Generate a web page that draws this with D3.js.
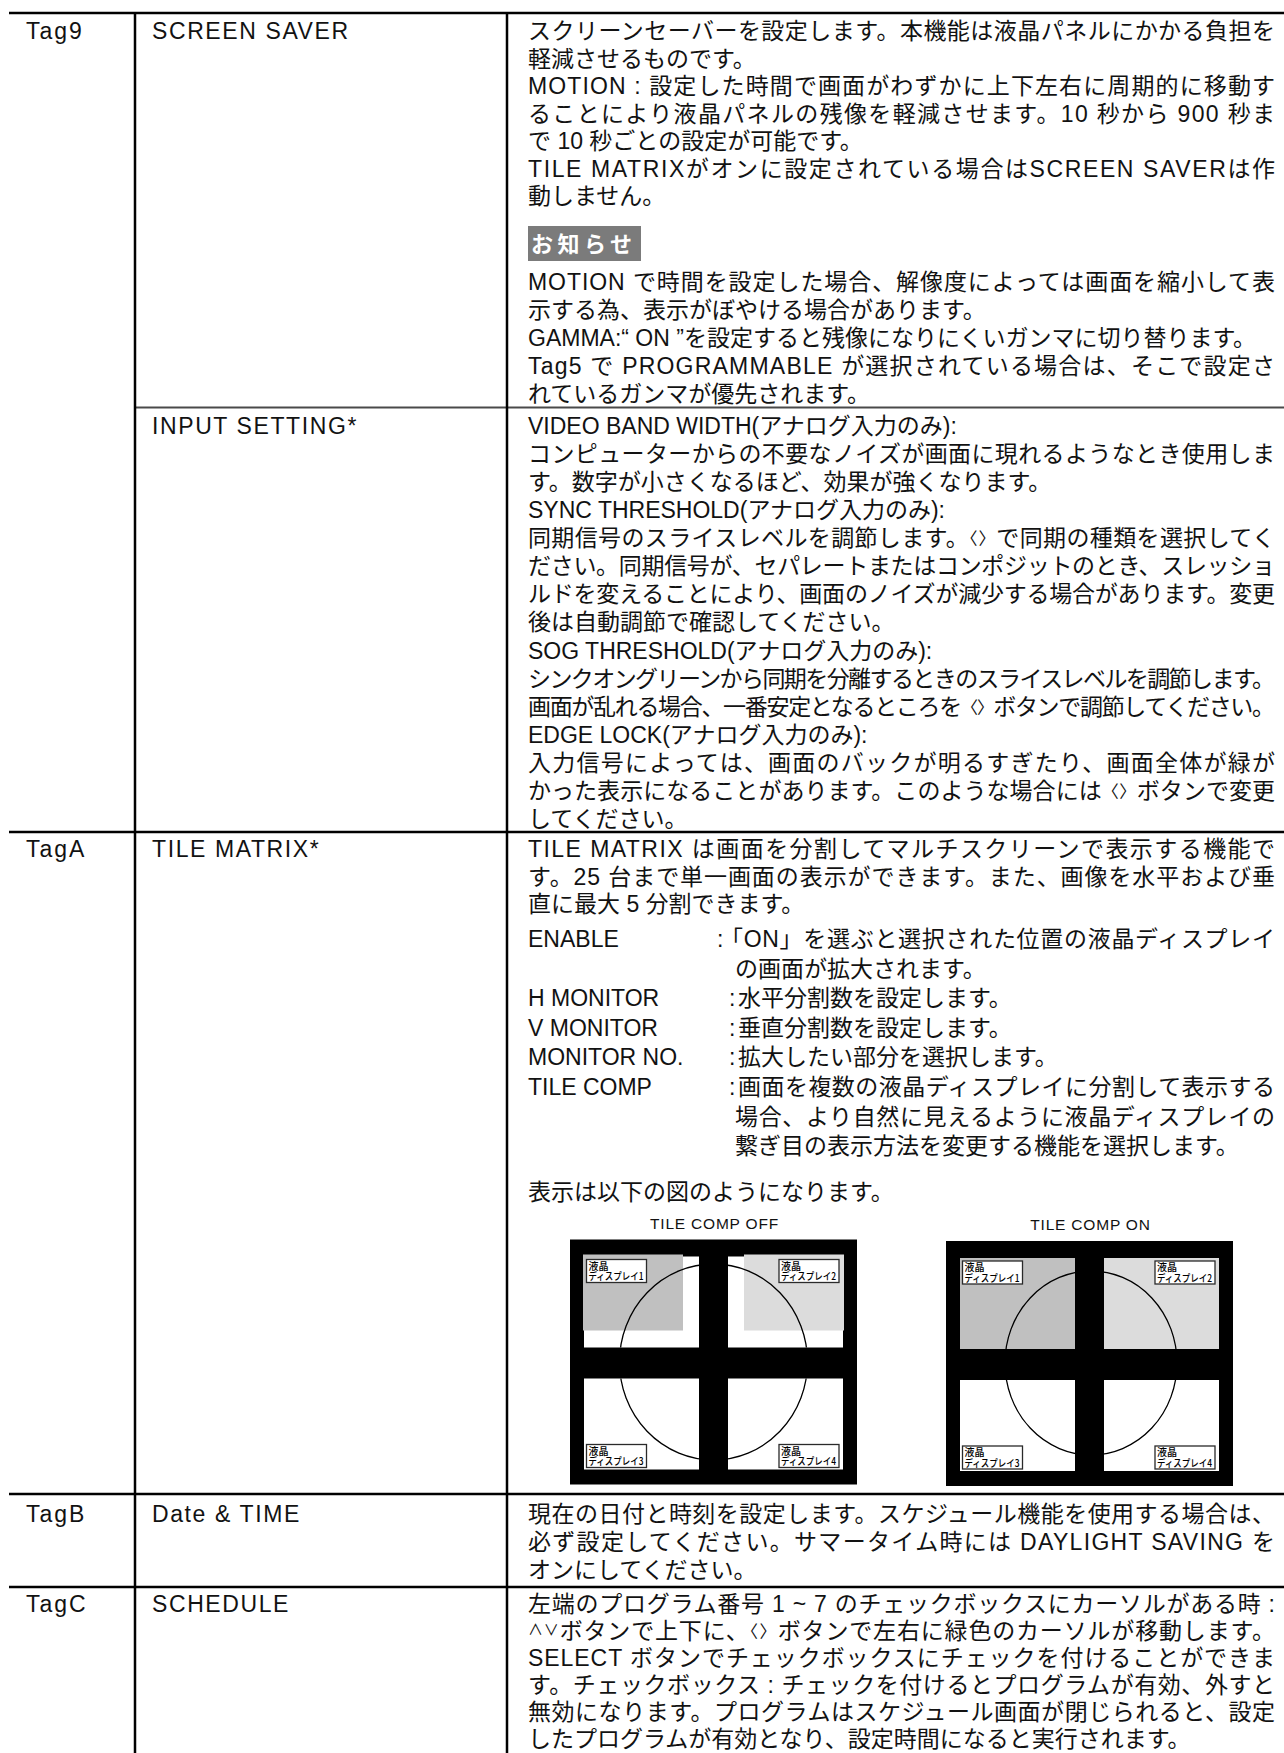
<!DOCTYPE html>
<html><head><meta charset="utf-8">
<script src="https://cdn.jsdelivr.net/npm/d3@7"></script>
<style>html,body{margin:0;padding:0;background:#fff;}svg{display:block;}</style>
</head><body>
<div id="chart"></div>
<script>
// ---------------- DATA ----------------
const rowTags = ["Tag9", "TagA", "TagB", "TagC"];
const settingNames = ["SCREEN SAVER", "INPUT SETTING*", "TILE MATRIX*", "Date & TIME", "SCHEDULE"];
const screenSaverText = [
  ["スクリーンセーバーを設定します。本機能は液晶パネルにかかる負担を", "軽減させるものです。"],
  ["MOTION : 設定した時間で画面がわずかに上下左右に周期的に移動す", "ることにより液晶パネルの残像を軽減させます。10 秒から 900 秒ま", "で 10 秒ごとの設定が可能です。"],
  ["TILE MATRIXがオンに設定されている場合はSCREEN SAVERは作", "動しません。"]
];
const noticeLabel = "お知らせ";
const noticeText = [
  ["MOTION で時間を設定した場合、解像度によっては画面を縮小して表", "示する為、表示がぼやける場合があります。"],
  ["GAMMA:“ ON ”を設定すると残像になりにくいガンマに切り替ります。"],
  ["Tag5 で PROGRAMMABLE が選択されている場合は、そこで設定さ", "れているガンマが優先されます。"]
];
const inputSettingText = [
  ["VIDEO BAND WIDTH(アナログ入力のみ):"],
  ["コンピューターからの不要なノイズが画面に現れるようなとき使用しま", "す。数字が小さくなるほど、効果が強くなります。"],
  ["SYNC THRESHOLD(アナログ入力のみ):"],
  ["同期信号のスライスレベルを調節します。‹›で同期の種類を選択してく", "ださい。同期信号が、セパレートまたはコンポジットのとき、スレッショ", "ルドを変えることにより、画面のノイズが減少する場合があります。変更", "後は自動調節で確認してください。"],
  ["SOG THRESHOLD(アナログ入力のみ):"],
  ["シンクオングリーンから同期を分離するときのスライスレベルを調節します。", "画面が乱れる場合、一番安定となるところを‹›ボタンで調節してください。"],
  ["EDGE LOCK(アナログ入力のみ):"],
  ["入力信号によっては、画面のバックが明るすぎたり、画面全体が緑が", "かった表示になることがあります。このような場合には‹›ボタンで変更", "してください。"]
];
const tileMatrixText = [
  ["TILE MATRIX は画面を分割してマルチスクリーンで表示する機能で", "す。25 台まで単一画面の表示ができます。また、画像を水平および垂", "直に最大 5 分割できます。"]
];
const tileItemLabels = ["ENABLE", "H MONITOR", "V MONITOR", "MONITOR NO.", "TILE COMP"];
const tileItemText = [
  ["「ON」を選ぶと選択された位置の液晶ディスプレイ", "の画面が拡大されます。"],
  ["水平分割数を設定します。"],
  ["垂直分割数を設定します。"],
  ["拡大したい部分を選択します。"],
  ["画面を複数の液晶ディスプレイに分割して表示する", "場合、より自然に見えるように液晶ディスプレイの", "繋ぎ目の表示方法を変更する機能を選択します。"]
];
const tileNote = "表示は以下の図のようになります。";
const diagramTitles = ["TILE COMP OFF", "TILE COMP ON"];
const panelLabelLines = ["液晶", "ディスプレイ"];
const panelNumbers = ["1", "2", "3", "4"];
const dateTimeText = [
  ["現在の日付と時刻を設定します。スケジュール機能を使用する場合は、", "必ず設定してください。サマータイム時には DAYLIGHT SAVING を", "オンにしてください。"]
];
const scheduleText = [
  ["左端のプログラム番号 1 ~ 7 のチェックボックスにカーソルがある時 :", "∧∨ボタンで上下に、‹›ボタンで左右に緑色のカーソルが移動します。", "SELECT ボタンでチェックボックスにチェックを付けることができま", "す。チェックボックス : チェックを付けるとプログラムが有効、外すと", "無効になります。プログラムはスケジュール画面が閉じられると、設定", "したプログラムが有効となり、設定時間になると実行されます。"]
];

// ---------------- LAYOUT ----------------
const W = 1284, H = 1753;
const TEXT = "#121212";
const FONT_LATIN = '"Liberation Sans", Arial, Helvetica, sans-serif';
const FONT_MIXED = '"Liberation Sans", "Noto Sans CJK JP", sans-serif';
const FONT_CJK = '"Noto Sans CJK JP", sans-serif';
const COL = {rule: 9, tag: 26, name: 152, div1: 135, div2: 507, desc: 528, right: 1275};

const svg = d3.select("#chart").append("svg").attr("width", W).attr("height", H)
  .attr("viewBox", `0 0 ${W} ${H}`);
svg.append("rect").attr("width", W).attr("height", H).attr("fill", "#fff");

function flatten(paras) {
  const out = [];
  paras.forEach(p => p.forEach((s, i) => out.push({s, j: i < p.length - 1})));
  return out;
}
// special glyph pairs get their own tspans; vertical shifts are undone on the next segment
function fillSegments(t, str) {
  const parts = str.split(/(‹›|∧∨)/).filter(s => s.length);
  let pending = 0;
  parts.forEach(p => {
    if (p === "‹›") {
      t.append("tspan").attr("font-family", FONT_CJK).attr("font-size", 17)
        .attr("letter-spacing", 0.5).attr("dy", pending - 1).text("〈〉");
      pending = 1;
    } else if (p === "∧∨") {
      t.append("tspan").attr("font-family", FONT_CJK).attr("font-size", 15)
        .attr("dy", pending - 4).text("∧∨");
      pending = 4;
    } else {
      t.append("tspan").attr("dy", pending).text(p);
      pending = 0;
    }
  });
}
function textLine(parent, str, x, y, o = {}) {
  const t = parent.append("text").attr("x", x).attr("y", y)
    .attr("font-family", o.font || FONT_MIXED).attr("font-size", o.size || 23)
    .attr("fill", o.fill || TEXT);
  if (/‹›|∧∨/.test(str)) fillSegments(t, str); else t.text(str);
  if (o.ls) t.attr("letter-spacing", o.ls);
  if (o.weight) t.attr("font-weight", o.weight);
  if (o.anchor) t.attr("text-anchor", o.anchor);
  if (o.right != null) {
    const avail = o.right - x;
    const len = t.node().getComputedTextLength();
    if (o.justify || len > avail) t.attr("textLength", avail).attr("lengthAdjust", "spacing");
  }
  return t;
}
function drawBlock(paras, x, right, y0, step) {
  const y = d3.scaleLinear().domain([0, 1]).range([y0, y0 + step]);
  flatten(paras).forEach((d, i) => textLine(svg, d.s, x, y(i), {right, justify: d.j}));
}

// ---------------- RULES ----------------
const hRules = [
  {x1: COL.rule, y: 13, w: 2.6, c: "#000"},
  {x1: COL.div1, y: 407.5, w: 2, c: "#4a4a4a"},
  {x1: COL.rule, y: 832, w: 2.6, c: "#000"},
  {x1: COL.rule, y: 1494, w: 2.6, c: "#000"},
  {x1: COL.rule, y: 1587, w: 2.6, c: "#000"}
];
svg.selectAll("line.h").data(hRules).join("line").attr("class", "h")
  .attr("x1", d => d.x1).attr("x2", W).attr("y1", d => d.y).attr("y2", d => d.y)
  .attr("stroke", d => d.c).attr("stroke-width", d => d.w);
svg.selectAll("line.v").data([COL.div1, COL.div2]).join("line").attr("class", "v")
  .attr("x1", d => d).attr("x2", d => d).attr("y1", 12).attr("y2", H)
  .attr("stroke", "#000").attr("stroke-width", 2.5);

// ---------------- LEFT COLUMNS ----------------
const tagY = [39, 857, 1522, 1612];
rowTags.forEach((t, i) => textLine(svg, t, COL.tag, tagY[i], {font: FONT_LATIN, ls: 2}));
const nameY = [39, 434, 857, 1522, 1612];
settingNames.forEach((t, i) => textLine(svg, t, COL.name, nameY[i], {font: FONT_LATIN, ls: 1.6}));

// ---------------- DESCRIPTIONS ----------------
drawBlock(screenSaverText, COL.desc, COL.right, 39, 27.5);
svg.append("rect").attr("x", COL.desc).attr("y", 226).attr("width", 113).attr("height", 35).attr("fill", "#7b7b7b");
textLine(svg, noticeLabel, COL.desc + 3, 252, {font: FONT_CJK, size: 22, weight: "bold", fill: "#fff", ls: 4.5});
drawBlock(noticeText, COL.desc, COL.right, 290, 27.9);
drawBlock(inputSettingText, COL.desc, COL.right, 434, 28.07);
drawBlock(tileMatrixText, COL.desc, COL.right, 857, 27.5);

// items
const itemY = d3.scaleLinear().domain([0, 1]).range([947, 947 + 29.6]);
let k = 0;
tileItemLabels.forEach((lab, i) => {
  const lines = tileItemText[i];
  const isEnable = i === 0;
  textLine(svg, lab, COL.desc, itemY(k), {font: FONT_LATIN});
  textLine(svg, ":", isEnable ? 717 : 729, itemY(k), {font: FONT_LATIN});
  lines.forEach((s, j) => {
    const x = j === 0 ? (isEnable ? 720 : 738) : 735;
    textLine(svg, s, x, itemY(k), {right: COL.right, justify: j < lines.length - 1});
    k++;
  });
});
textLine(svg, tileNote, COL.desc, 1200, {});

// ---------------- DIAGRAMS ----------------
function drawDiagram(x0, y0, mode, title, id) {
  const g = svg.append("g").attr("transform", `translate(${x0},${y0})`);
  const bw = 287, bh = 245, pw = 115, ph = 91;
  const px = d3.scaleOrdinal().domain([0, 1]).range([14, 158]);
  const py = d3.scaleOrdinal().domain([0, 1]).range([17, 139]);
  const panels = panelNumbers.map((n, i) => ({n, c: i % 2, r: Math.floor(i / 2)}));
  textLine(g, title, bw / 2 + 1, -11, {font: FONT_LATIN, size: 15.5, ls: 0.8, anchor: "middle"});
  g.append("rect").attr("width", bw).attr("height", bh).attr("fill", "#000");
  const onFill = ["#c0c0c0", "#dcdcdc", "#ffffff", "#ffffff"];
  g.selectAll("rect.p").data(panels).join("rect").attr("class", "p")
    .attr("x", d => px(d.c)).attr("y", d => py(d.r)).attr("width", pw).attr("height", ph)
    .attr("fill", (d, i) => mode === "on" ? onFill[i] : "#fff");
  if (mode === "off") {
    g.append("rect").attr("x", 13).attr("y", 15).attr("width", 100).attr("height", 76).attr("fill", "#c0c0c0");
    g.append("rect").attr("x", 174).attr("y", 15).attr("width", 100).attr("height", 76).attr("fill", "#dcdcdc");
  }
  const clip = g.append("clipPath").attr("id", id);
  clip.selectAll("rect").data(panels).join("rect")
    .attr("x", d => px(d.c)).attr("y", d => py(d.r)).attr("width", pw).attr("height", ph);
  const e = mode === "on" ? {cx: 145, cy: 122, rx: 86, ry: 92} : {cx: 143.5, cy: 122.5, rx: 94, ry: 98};
  g.append("ellipse").attr("cx", e.cx).attr("cy", e.cy).attr("rx", e.rx).attr("ry", e.ry)
    .attr("fill", "none").attr("stroke", "#000").attr("stroke-width", 1.3).attr("clip-path", `url(#${id})`);
  const lw = 60, lh = 23;
  panels.forEach(d => {
    const lx = d.c === 0 ? px(d.c) + 2.5 : px(d.c) + pw - 4 - lw;
    const ly = d.r === 0 ? py(d.r) + 3 : py(d.r) + ph - 2 - lh;
    const lg = g.append("g").attr("transform", `translate(${lx},${ly})`);
    lg.append("rect").attr("width", lw).attr("height", lh).attr("fill", "#fff")
      .attr("stroke", "#2a2a2a").attr("stroke-width", 1.3);
    const lt = lg.append("text").attr("font-family", FONT_CJK).attr("font-size", 10)
      .attr("font-weight", 500).attr("fill", "#000");
    lt.append("tspan").attr("x", 2).attr("y", 10).text(panelLabelLines[0]);
    lt.append("tspan").attr("x", 2).attr("y", 20.5).attr("textLength", 55)
      .attr("lengthAdjust", "spacingAndGlyphs").text(panelLabelLines[1] + d.n);
  });
}
drawDiagram(570, 1239.5, "off", diagramTitles[0], "clipOff");
drawDiagram(946, 1241, "on", diagramTitles[1], "clipOn");

// ---------------- DATE & SCHEDULE ----------------
drawBlock(dateTimeText, COL.desc, COL.right, 1522, 28);
drawBlock(scheduleText, COL.desc, COL.right, 1612, 27);
</script>
</body></html>
